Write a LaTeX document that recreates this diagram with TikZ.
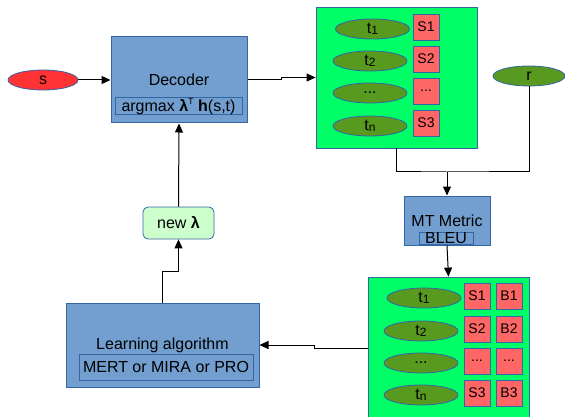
\documentclass[tikz,border=0pt]{standalone}
\usepackage{fontspec}
\setmainfont{Liberation Sans}
\usetikzlibrary{shapes.geometric,arrows.meta}
\definecolor{boxblue}{HTML}{729FCF}
\definecolor{edgeblue}{HTML}{3465A4}
\definecolor{brightgreen}{HTML}{00FF66}
\definecolor{olive}{HTML}{579A1F}
\definecolor{sred}{HTML}{FF6666}
\definecolor{ellred}{HTML}{FF3333}
\definecolor{palegreen}{HTML}{CCFFCC}
\tikzset{
  every node/.style={font=\fontsize{16}{19}\selectfont, inner sep=0pt},
  bluebox/.style={rectangle, draw=edgeblue, fill=boxblue, line width=1pt},
  innerbox/.style={rectangle, draw=edgeblue, line width=1pt},
  greenbox/.style={rectangle, draw=edgeblue, fill=brightgreen, line width=0.8pt},
  tell/.style={ellipse, draw=edgeblue, fill=olive, line width=0.8pt, minimum width=74pt, minimum height=20pt},
  sq/.style={rectangle, draw=edgeblue, fill=sred, line width=0.8pt, minimum width=26pt, minimum height=26pt, font=\fontsize{14}{16}\selectfont},
  conn/.style={line width=1pt, black},
  arr/.style={conn, -{Triangle[length=9pt,width=8pt]}},
}
\newcommand{\tsub}[2]{#1\raisebox{-0.15ex}{\fontsize{12}{12}\selectfont #2}}
\begin{document}
\begin{tikzpicture}[x=1pt,y=-1pt]
\useasboundingbox (0,0) rectangle (565,417);
% input s
\node[ellipse, draw=edgeblue, fill=ellred, line width=0.8pt, minimum width=70pt, minimum height=20pt] (s) at (43,80) {s};
% decoder
\node[bluebox, minimum width=136pt, minimum height=86pt] (dec) at (179,80) {};
\node (declbl) at (179,80) {Decoder};
\node[innerbox, minimum width=127pt, minimum height=17pt] (argmax) at (178.5,106.5) {argmax \textbf{λ}\raisebox{0.8ex}{\fontsize{9}{9}\selectfont T} \textbf{h}(s,t)};
% top candidate list
\node[greenbox, minimum width=161pt, minimum height=141pt] (topbox) at (396.5,77.5) {};
\node[tell] (tt1) at (372.5,29) {\tsub{t}{1}};
\node[tell] (tt2) at (370,61) {\tsub{t}{2}};
\node[tell] (tt3) at (370,93) {...};
\node[tell] (tt4) at (370,126) {\tsub{t}{n}};
\node[sq] (ts1) at (426,27) {S1};
\node[sq] (ts2) at (426,59) {S2};
\node[sq] (ts3) at (426,91) {...};
\node[sq] (ts4) at (426,123) {S3};
% reference r
\node[ellipse, draw=edgeblue, fill=olive, line width=0.8pt, minimum width=72pt, minimum height=20pt] (r) at (529,76) {r};
% MT metric
\node[bluebox, minimum width=86pt, minimum height=49pt] (metric) at (447,220.5) {};
\node (metriclbl) at (447,221) {MT Metric};
\node[innerbox, minimum width=54pt, minimum height=12pt] (bleu) at (446,238) {BLEU};
% bottom candidate list
\node[greenbox, minimum width=161pt, minimum height=143pt] (botbox) at (448.5,348.5) {};
\node[tell] (bt1) at (424,298) {\tsub{t}{1}};
\node[tell] (bt2) at (421,331) {\tsub{t}{2}};
\node[tell] (bt3) at (421,363) {...};
\node[tell] (bt4) at (421,395) {\tsub{t}{n}};
\node[sq] (bs1) at (477,296) {S1};
\node[sq] (bs2) at (477,329) {S2};
\node[sq] (bs3) at (477,361) {...};
\node[sq] (bs4) at (477,393) {S3};
\node[sq] (bb1) at (509,296) {B1};
\node[sq] (bb2) at (509,329) {B2};
\node[sq] (bb3) at (509,361) {...};
\node[sq] (bb4) at (509,393) {B3};
% learning algorithm
\node[bluebox, minimum width=193pt, minimum height=84pt] (learn) at (162.5,345) {};
\node (learnlbl) at (162.5,345) {Learning algorithm};
\node[innerbox, minimum width=174pt, minimum height=26pt] (mert) at (166,367) {MERT or MIRA or PRO};
% new lambda
\node[rectangle, rounded corners=5pt, draw=edgeblue, fill=palegreen, line width=0.8pt, minimum width=71pt, minimum height=32pt] (newl) at (178.5,223) {new \textbf{λ}};
% connectors
\coordinate (decstep) at (281,80);
\coordinate (join) at (447,172);
\coordinate (learnstep) at (314,348.5);
\coordinate (lamstep) at (178.5,271);
\draw[arr] (s) -- (dec);
\draw[arr] (dec.east) -- (decstep) |- (topbox.west);
\draw[conn] (topbox.south) |- (join) -| (r.south);
\draw[arr] (join) -- (metric.north);
\draw[arr] (metric.south) -- (botbox.north);
\draw[arr] (botbox.west) -- (learnstep) |- (learn.east);
\draw[arr] (learn.north) |- (lamstep) -- (newl.south);
\draw[arr] (newl.north) -- (dec.south);
\end{tikzpicture}
\end{document}
